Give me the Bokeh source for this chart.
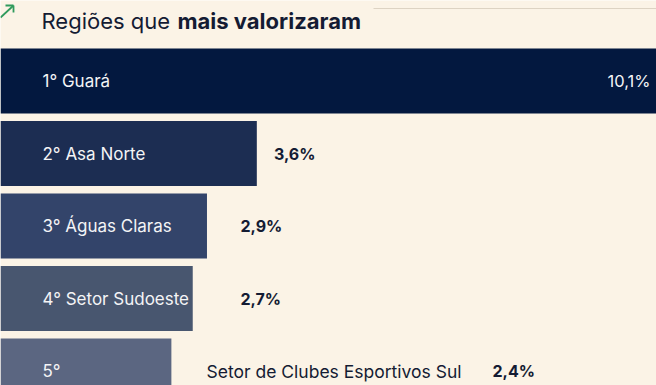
from bokeh.plotting import figure
from bokeh.models import Range1d
from bokeh.core.properties import value
from bokeh.embed import file_html
from bokeh.resources import INLINE

# ---- data ----
ranks = ["1°", "2°", "3°", "4°", "5°"]
regions = ["Guará", "Asa Norte", "Águas Claras", "Setor Sudoeste", "Setor de Clubes Esportivos Sul"]
growth = [10.1, 3.6, 2.9, 2.7, 2.4]
title_regular = "Regiões que"
title_bold = "mais valorizaram"

# ---- style / layout ----
W, H = 656, 385
BG = "#FBF3E6"
NAVY = "#141B33"
bar_colors = ["#03183F", "#1C2D52", "#33446A", "#48566F", "#5B6681"]
PX_PER_PCT = 71.2          # horizontal scale
ROW_PX = 72.5              # row pitch
ROW0_PX = 80.5             # centre of first row
FONT = "Inter"

x_end = W / PX_PER_PCT
y_top = -ROW0_PX / ROW_PX
y_bot = (H - ROW0_PX) / ROW_PX

def px_x(px):
    return px / PX_PER_PCT

def px_y(py):
    return (py - ROW0_PX) / ROW_PX

p = figure(width=W, height=H, output_backend="svg", toolbar_location=None,
           x_range=Range1d(0, x_end), y_range=Range1d(y_bot, y_top),
           min_border=0, outline_line_color=None,
           background_fill_color=BG, border_fill_color=BG)
p.axis.visible = False
p.grid.visible = False

rows = list(range(len(growth)))

# bars
p.hbar(y=rows, left=0, right=growth, height=65 / ROW_PX,
       fill_color=bar_colors, line_color=None)

# names: inside the bar when they fit, otherwise rank inside and name outside
inside_fit = [True, True, True, True, False]
inside_txt, inside_y = [], []
out_txt, out_y = [], []
for i, (r, n) in enumerate(zip(ranks, regions)):
    if inside_fit[i]:
        inside_txt.append(f"{r} {n}")
    else:
        inside_txt.append(r)
        out_txt.append(n)
        out_y.append(i)
    inside_y.append(i)

p.text(x=[px_x(42)] * len(inside_txt), y=inside_y, text=inside_txt,
       text_color="#F4F4F6", text_font=value(FONT), text_font_size="17px",
       text_baseline="middle", text_align="left")
name_out_x = px_x(206)
p.text(x=[name_out_x] * len(out_txt), y=out_y, text=out_txt,
       text_color=NAVY, text_font=value(FONT), text_font_size="17.5px",
       text_baseline="middle", text_align="left")

# value labels
labels = [f"{v:.1f}%".replace(".", ",") for v in growth]
# first bar overflows the frame: label inside at right edge
p.text(x=[px_x(650)], y=[0], text=[labels[0]], text_color="#F4F4F6",
       text_font=value(FONT), text_font_size="16.5px", text_baseline="middle",
       text_align="right")
lx, ly, lt = [], [], []
for i in rows[1:]:
    if inside_fit[i]:
        lx.append(max(growth[i] + 0.24, 3.37))
    else:
        lx.append(px_x(492))
    ly.append(i)
    lt.append(labels[i])
p.text(x=lx, y=ly, text=lt, text_color=NAVY, text_font=value(FONT),
       text_font_size="16px", text_font_style="bold", text_baseline="middle",
       text_align="left")

# title
p.text(x=[px_x(41)], y=[px_y(20)], text=[title_regular], text_color=NAVY,
       text_font=value(FONT), text_font_size="22px", text_baseline="alphabetic")
p.text(x=[px_x(177)], y=[px_y(20)], text=[title_bold], text_color=NAVY,
       text_font=value(FONT), text_font_size="22px", text_font_style="bold",
       text_baseline="alphabetic")
# title rule
p.segment(x0=[px_x(373)], y0=[px_y(8)], x1=[x_end], y1=[px_y(8)],
          line_color="#DDD3C3", line_width=1.2)
# arrow icon
GREEN = "#2F9A5C"
p.segment(x0=[px_x(0), px_x(5), px_x(13)], y0=[px_y(17), px_y(5), px_y(5)],
          x1=[px_x(13), px_x(13), px_x(13)], y1=[px_y(5), px_y(5), px_y(12)],
          line_color=GREEN, line_width=1.8)

html = file_html(p, INLINE)
html = html.replace("<body>", f'<body style="margin:0;background:{BG}">', 1)
open("out.html", "w").write(html)
